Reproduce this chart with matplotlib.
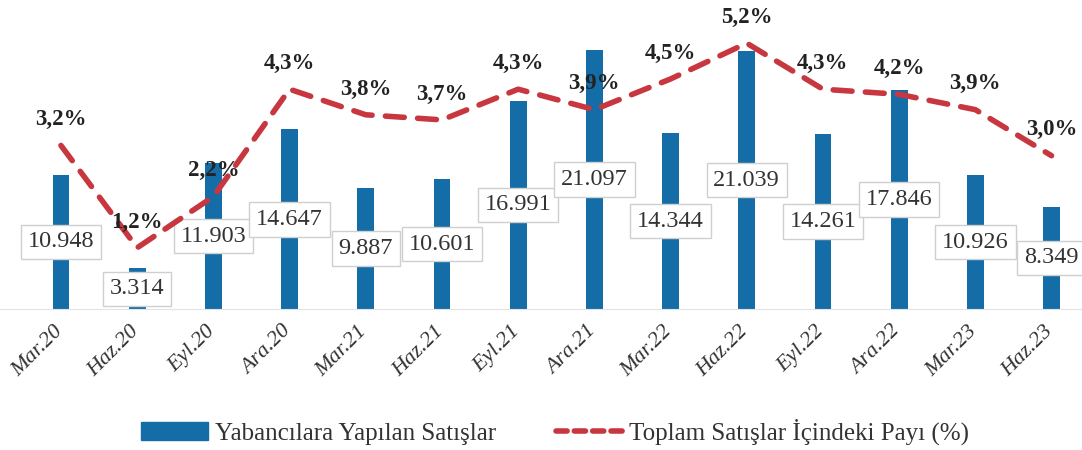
import matplotlib
matplotlib.use("Agg")
import matplotlib.pyplot as plt
import matplotlib.transforms as mtrans
from matplotlib.patches import Patch
from matplotlib.lines import Line2D

# data
periods = ["Mar.20", "Haz.20", "Eyl.20", "Ara.20", "Mar.21", "Haz.21", "Eyl.21",
           "Ara.21", "Mar.22", "Haz.22", "Eyl.22", "Ara.22", "Mar.23", "Haz.23"]
foreign_sales = [10948, 3314, 11903, 14647, 9887, 10601, 16991,
                 21097, 14344, 21039, 14261, 17846, 10926, 8349]
share_pct = [3.2, 1.2, 2.2, 4.3, 3.8, 3.7, 4.3,
             3.9, 4.5, 5.2, 4.3, 4.2, 3.9, 3.0]

bar_color = "#156da8"
line_color = "#c8373f"
serif = "Liberation Serif"

plt.rcParams["font.family"] = serif

fig = plt.figure(figsize=(10.82, 4.5), dpi=100)
ax = fig.add_axes([0.0, 0.313, 1.0, 0.682])
ax2 = ax.twinx()

x = list(range(len(periods)))
bars = ax.bar(x, foreign_sales, width=0.22, color=bar_color, zorder=2)
ax.set_ylim(0, 25000)
ax.set_xlim(-0.8, 13.4)

# value labels in the middle of each bar
for xi, v in zip(x, foreign_sales):
    lbl = "{:,}".format(v).replace(",", ".")
    ax.text(xi, v / 2, lbl, ha="center", va="center", fontsize=17.5, color="#333333",
            zorder=5,
            bbox=dict(boxstyle="square,pad=0.28", fc="white", ec="#cfcfcf", lw=1.0))

# share of total sales, dashed line on a second axis
ax2.plot(x, share_pct, color=line_color, lw=4.0, linestyle=(0, (3.4, 2.4)),
         dash_capstyle="round", solid_joinstyle="round", zorder=3)
ax2.set_ylim(0, 6.0)
ax2.set_xlim(-0.8, 13.4)
for xi, p in zip(x, share_pct):
    ax2.annotate("{:.1f}%".format(p).replace(".", ","), xy=(xi, p), xytext=(0, 11),
                 textcoords="offset points", ha="center", va="bottom",
                 fontsize=16.5, fontweight="bold", color="#222222")

# axes styling
for a in (ax, ax2):
    for s in ("top", "left", "right"):
        a.spines[s].set_visible(False)
    a.set_yticks([])
ax.spines["bottom"].set_color("#e3e3e3")
ax2.spines["bottom"].set_visible(False)

ax.set_xticks(x)
ax.set_xticklabels(periods, rotation=45, ha="right", va="top", rotation_mode="anchor",
                   fontsize=16, fontstyle="italic", color="#333333")
ax.tick_params(axis="x", length=0, pad=9)
shift = mtrans.ScaledTranslation(-8 / 100, 0, fig.dpi_scale_trans)
for lab in ax.get_xticklabels():
    lab.set_transform(lab.get_transform() + shift)

handles = [Patch(facecolor=bar_color, edgecolor=bar_color),
           Line2D([0], [0], color=line_color, lw=4.0, linestyle=(0, (2.0, 1.3)),
                  dash_capstyle="round")]
fig.legend(handles, ["Yabancılara Yapılan Satışlar", "Toplam Satışlar İçindeki Payı (%)"],
           loc="center", bbox_to_anchor=(0.513, 0.04), ncol=2, frameon=False,
           fontsize=18, handlelength=2.7, handletextpad=0.25, columnspacing=2.4,
           labelcolor="#333333")

plt.savefig("out.png", dpi=100)
